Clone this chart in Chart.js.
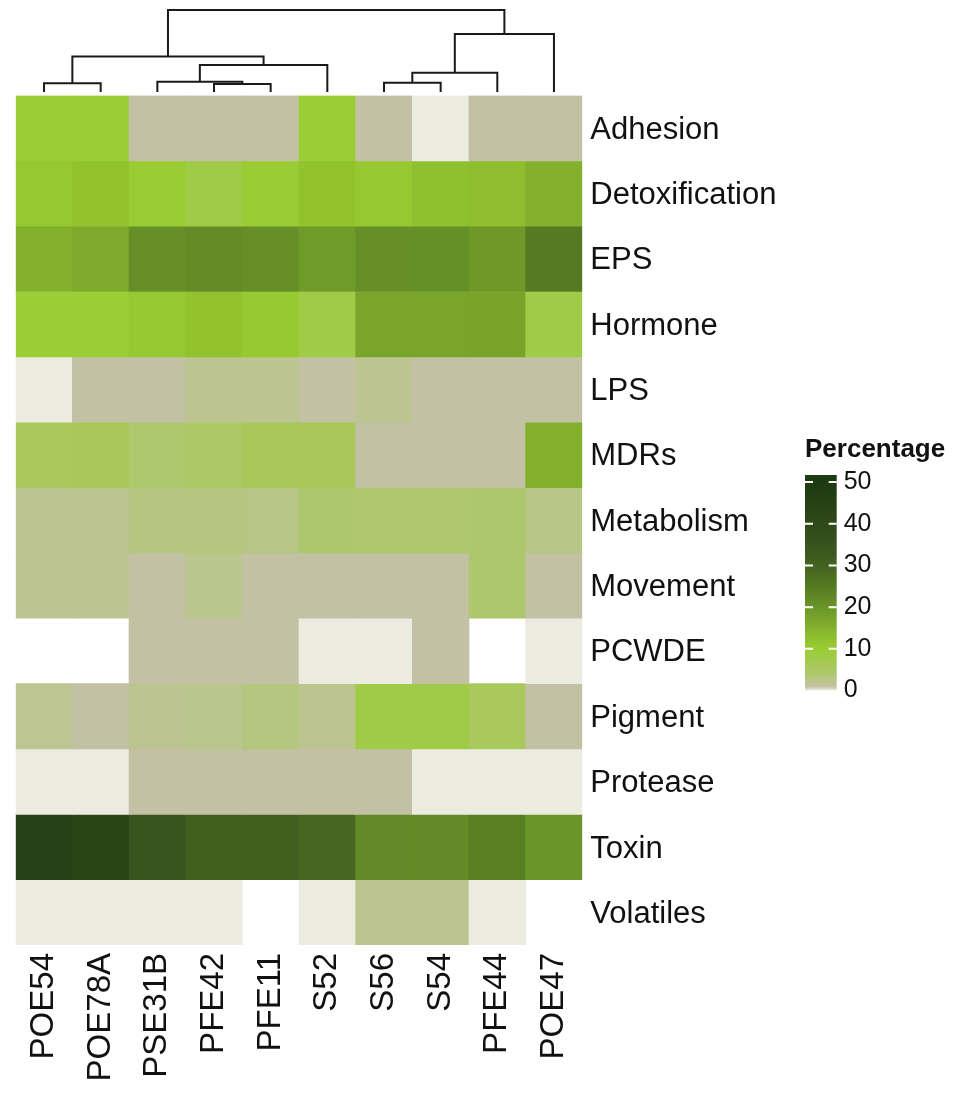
<!DOCTYPE html>
<html lang="en">
<head>
    <meta charset="UTF-8">
    <title>Heatmap de funções</title>
    <script src="https://cdn.jsdelivr.net/npm/chart.js"></script>
    <style>
        body { margin: 0; background: #fff; }
        #wrap { position: relative; width: 957px; height: 1094px; }
        canvas { position: absolute; }
    </style>
</head>
<body>
    <div id="wrap">
        <canvas id="mapa" width="957" height="1094" style="left:0;top:0"></canvas>
        <canvas id="arvore" width="957" height="96" style="left:0;top:0"></canvas>
        <canvas id="escala" width="152" height="300" style="left:805px;top:430px"></canvas>
    </div>

    <script>
        // colunas (ordem do dendrograma) e linhas
        const colunas = ['POE54', 'POE78A', 'PSE31B', 'PFE42', 'PFE11', 'S52', 'S56', 'S54', 'PFE44', 'POE47']
        const linhas = ['Adhesion', 'Detoxification', 'EPS', 'Hormone', 'LPS', 'MDRs', 'Metabolism',
                        'Movement', 'PCWDE', 'Pigment', 'Protease', 'Toxin', 'Volatiles']

        // porcentagens por linha (null = sem valor)
        const adhesion       = [9.6, 9.6, 1, 1, 1, 9.8, 1, 0, 1, 1]
        const detoxification = [11, 12, 10.2, 8, 10.2, 12, 11, 12.7, 13, 15]
        const eps            = [15, 16, 21, 21.7, 21, 19, 21, 21.2, 19.2, 25]
        const hormone        = [9.7, 9.8, 11, 12, 10.8, 8, 17, 17, 17.2, 8]
        const lps            = [0, 1, 1, 2, 2, 1, 2, 1, 1, 1]
        const mdrs           = [5.5, 5.8, 3.9, 4.5, 6, 6, 1, 1, 1, 15]
        const metabolism     = [2, 2, 3, 3, 2.7, 4, 3.8, 3.8, 4, 2.7]
        const movement       = [2, 2, 1, 2.1, 1, 1, 1, 1, 4, 1]
        const pcwde          = [null, null, 1, 1, 1, 0, 0, 1, null, 0]
        const pigment        = [1.9, 1, 2, 2.1, 3.1, 2, 8, 8, 5.5, 1]
        const protease       = [0, 0, 1, 1, 1, 1, 1, 0, 0, 0]
        const toxin          = [46, 43, 35, 31, 31, 29, 22, 22, 24, 20]
        const volatiles      = [0, 0, 0, 0, null, 0, 2, 2, 0, null]
        const valores = [adhesion, detoxification, eps, hormone, lps, mdrs, metabolism,
                         movement, pcwde, pigment, protease, toxin, volatiles]

        // dendrograma: junções (mK = junção K) e alturas
        const juncaoA = ['POE54', 'PFE42', 'PSE31B', 'm3', 'm1', 'S56', 'm6', 'm7', 'm5']
        const juncaoB = ['POE78A', 'PFE11', 'm2', 'S52', 'm4', 'S54', 'PFE44', 'POE47', 'm8']
        const alturas = [0.87, 0.80, 1.03, 2.70, 3.54, 0.93, 1.93, 5.80, 8.20]

        // escala de cor
        const escalaValores = [0, 1, 2, 3, 4, 6, 8, 10, 13, 16, 20, 25, 30, 35, 42, 50]
        const escalaCores = ['#ebebe0', '#c3c1a3', '#bcc590', '#b6c680', '#adc86c', '#a7c858', '#9fcb46', '#9acd32',
                             '#8ebe2e', '#7eab2b', '#6a9528', '#557a22', '#44621f', '#38531d', '#2b4617', '#1e3a12']
        const legendaTicks = [0, 10, 20, 30, 40, 50]
        const legendaMax = 51.7

        Chart.defaults.font.family = "'Liberation Sans', Arial, sans-serif"
        Chart.defaults.color = '#111'
        Chart.defaults.animation = false

        const hexRgb = h => [1, 3, 5].map(i => parseInt(h.slice(i, i + 2), 16))
        const corDe = v => {
            if (v == null) return 'rgba(255,255,255,0)'
            let i = 0
            while (i < escalaValores.length - 2 && v > escalaValores[i + 1]) i++
            const t = Math.min(1, Math.max(0, (v - escalaValores[i]) / (escalaValores[i + 1] - escalaValores[i])))
            const a = hexRgb(escalaCores[i]), b = hexRgb(escalaCores[i + 1])
            const c = a.map((x, k) => Math.round(x + (b[k] - x) * t))
            return `rgb(${c[0]},${c[1]},${c[2]})`
        }

        // ---- heatmap ----
        const mapa = new Chart(document.getElementById('mapa'), {
            type: 'bar',
            data: {
                labels: colunas,
                datasets: valores.map((linha, i) => ({
                    label: linhas[i],
                    data: linha.map(() => 1),
                    backgroundColor: linha.map(corDe),
                    borderWidth: 0,
                    barPercentage: 1,
                    categoryPercentage: 1
                }))
            },
            options: {
                responsive: false,
                layout: { padding: { left: 15.7, top: 95.5, right: 0, bottom: 0 } },
                plugins: { legend: { display: false }, tooltip: { enabled: false } },
                scales: {
                    x: {
                        stacked: true,
                        grid: { display: false, drawTicks: false },
                        border: { display: false },
                        ticks: { autoSkip: false, maxRotation: 90, minRotation: 90, padding: 8, font: { size: 33 } },
                        afterFit: s => { s.height = 149 }
                    },
                    y: { stacked: true, display: false, min: 0, max: linhas.length, reverse: true },
                    linhasEixo: {
                        type: 'category',
                        labels: linhas,
                        position: 'right',
                        offset: true,
                        grid: { display: false, drawTicks: false },
                        border: { display: false },
                        ticks: { autoSkip: false, padding: 8, labelOffset: 2, font: { size: 31 } },
                        afterFit: s => { s.width = 957 - 582.3 }
                    }
                }
            }
        })

        // ---- dendrograma ----
        const nos = {}
        colunas.forEach((c, i) => { nos[c] = { x: i + 0.5, y: 0 } })
        const ramos = juncaoA.map((a, k) => {
            const na = nos[a], nb = nos[juncaoB[k]], h = alturas[k]
            nos['m' + (k + 1)] = { x: (na.x + nb.x) / 2, y: h }
            return {
                data: [{ x: na.x, y: na.y }, { x: na.x, y: h }, { x: nb.x, y: h }, { x: nb.x, y: nb.y }],
                showLine: true,
                borderColor: '#1a1a1a',
                borderWidth: 2,
                borderJoinStyle: 'miter',
                borderCapStyle: 'butt',
                pointRadius: 0,
                tension: 0,
                clip: false
            }
        })
        const arvore = new Chart(document.getElementById('arvore'), {
            type: 'scatter',
            data: { datasets: ramos },
            options: {
                responsive: false,
                layout: { padding: { left: 15.7, right: 957 - 582.3, top: 10, bottom: 4 } },
                plugins: { legend: { display: false }, tooltip: { enabled: false } },
                scales: {
                    x: { display: false, min: 0, max: colunas.length },
                    y: { display: false, min: 0, max: Math.max(...alturas) }
                }
            }
        })

        // ---- barra de cor ----
        const tracinhos = {
            id: 'tracinhos',
            afterDatasetsDraw(chart) {
                const { ctx, chartArea: a, scales: { y } } = chart
                ctx.save()
                ctx.strokeStyle = '#fff'
                ctx.lineWidth = 2
                legendaTicks.filter(v => v > 0).forEach(v => {
                    const py = y.getPixelForValue(v)
                    ctx.beginPath()
                    ctx.moveTo(a.left, py); ctx.lineTo(a.left + 8, py)
                    ctx.moveTo(a.right - 8, py); ctx.lineTo(a.right, py)
                    ctx.stroke()
                })
                ctx.restore()
            }
        }
        const escala = new Chart(document.getElementById('escala'), {
            type: 'bar',
            data: {
                labels: [''],
                datasets: [{
                    data: [[0, legendaMax]],
                    barPercentage: 1,
                    categoryPercentage: 1,
                    borderWidth: 0,
                    backgroundColor: c => {
                        const ch = c.chart
                        if (!ch.chartArea) return escalaCores[7]
                        const y = ch.scales.y
                        const y0 = y.getPixelForValue(0), y1 = y.getPixelForValue(legendaMax)
                        const g = ch.ctx.createLinearGradient(0, y0, 0, y1)
                        escalaValores.forEach((v, i) => g.addColorStop(Math.min(1, v / legendaMax), escalaCores[i]))
                        g.addColorStop(1, escalaCores[escalaCores.length - 1])
                        return g
                    }
                }]
            },
            options: {
                responsive: false,
                layout: { padding: { left: 0, right: 0, top: 0, bottom: 39.5 } },
                plugins: {
                    legend: { display: false },
                    tooltip: { enabled: false },
                    title: {
                        display: true,
                        text: 'Percentage',
                        align: 'start',
                        color: '#111',
                        font: { size: 26, weight: 'bold' },
                        padding: { top: 4.5, bottom: 9.3 }
                    }
                },
                scales: {
                    x: { display: false },
                    y: {
                        position: 'right',
                        min: 0,
                        max: legendaMax,
                        grid: { display: false, drawTicks: false },
                        border: { display: false },
                        afterBuildTicks: s => { s.ticks = legendaTicks.map(v => ({ value: v })) },
                        ticks: { padding: 7, font: { size: 25 } },
                        afterFit: s => { s.width = 152 - 31.7 }
                    }
                }
            },
            plugins: [tracinhos]
        })
    </script>
</body>
</html>
